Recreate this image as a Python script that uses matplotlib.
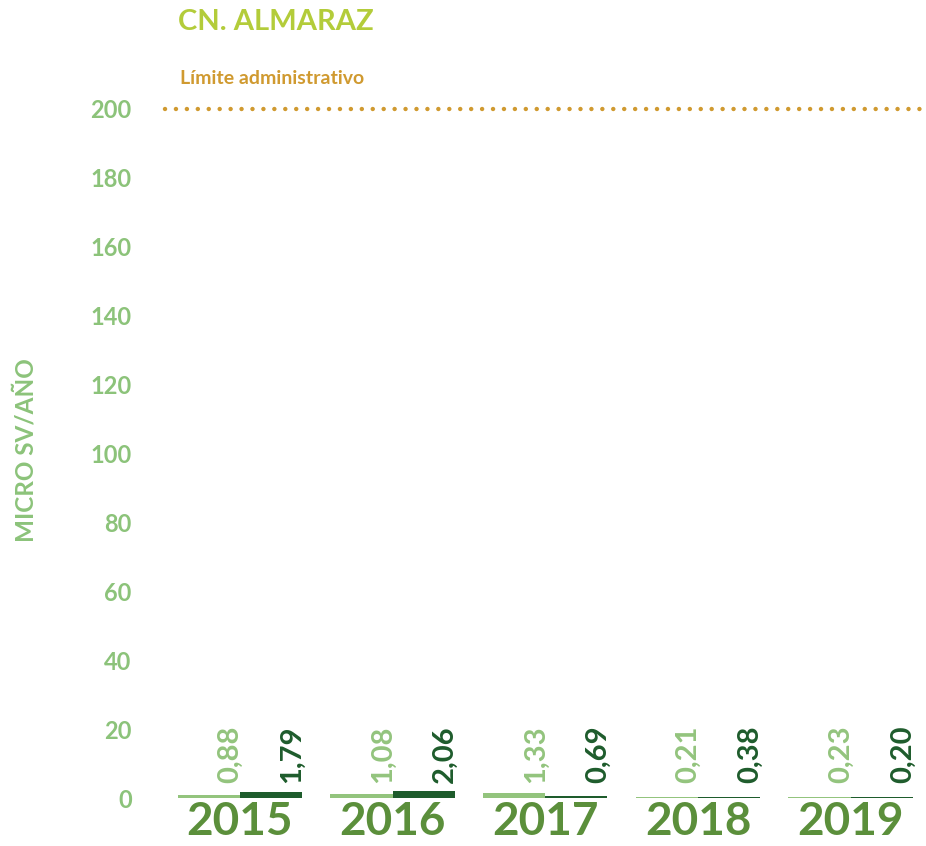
import matplotlib
matplotlib.use("Agg")
import matplotlib.pyplot as plt
import numpy as np

plt.rcParams['font.family'] = ['Lato', 'DejaVu Sans']

# data
years = ['2015', '2016', '2017', '2018', '2019']
serie_a = [0.88, 1.08, 1.33, 0.21, 0.23]   # light green
serie_b = [1.79, 2.06, 0.69, 0.38, 0.20]   # dark green
limite = 200
yticks = [0, 20, 40, 60, 80, 100, 120, 140, 160, 180, 200]

c_light = '#93c47d'
c_dark = '#1e5c2c'
c_year = '#5b8f3b'
c_tick = '#8cc37a'
c_title = '#b3cc3a'
c_lim = '#d09a30'

fig = plt.figure(figsize=(9.26, 8.46), dpi=100)
ax = fig.add_axes([165 / 926, 48 / 846, 762 / 926, 689 / 846])

x = np.arange(len(years))
w = 0.407
ax.bar(x - w / 2, serie_a, width=w, color=c_light)
ax.bar(x + w / 2, serie_b, width=w, color=c_dark)

# value labels, rotated, sitting on the right side of each bar
def fmt(v):
    return ('%.2f' % v).replace('.', ',')

for xi, va_, vb_ in zip(x, serie_a, serie_b):
    ax.annotate(fmt(va_), xy=(xi, 0), xytext=(-7, 11), textcoords='offset points',
                rotation=90, ha='center', va='bottom', fontsize=21,
                fontweight='bold', color=c_light)
    ax.annotate(fmt(vb_), xy=(xi + w, 0), xytext=(-7, 11), textcoords='offset points',
                rotation=90, ha='center', va='bottom', fontsize=21,
                fontweight='bold', color=c_dark)

# limit line
ax.axhline(limite, color=c_lim, lw=3.2, linestyle=(0, (0.01, 2.45)),
           dash_capstyle='round', clip_on=False)

ax.set_xlim(-0.49, 4.5)
ax.set_ylim(0, 200)
ax.set_yticks(yticks)
ax.set_yticklabels([str(t) for t in yticks], fontsize=17, fontweight='bold', color=c_tick)
ax.tick_params(axis='y', length=0, pad=24)
ax.set_xticks(x)
ax.set_xticklabels(years, fontsize=33, fontweight='bold', color=c_year)
ax.tick_params(axis='x', length=0, pad=2)
for s in ax.spines.values():
    s.set_visible(False)

fig.text(26 / 926, 1 - 450 / 846, 'MICRO SV/AÑO', rotation=90, ha='center', va='center',
         fontsize=17.5, fontweight='bold', color=c_tick)
fig.text(178 / 926, 1 - 22 / 846, 'CN. ALMARAZ', ha='left', va='center',
         fontsize=21, fontweight='bold', color=c_title)
fig.text(180 / 926, 1 - 79 / 846, 'Límite administrativo', ha='left', va='center',
         fontsize=14, fontweight='bold', color=c_lim)

fig.savefig('out.png', dpi=100)
